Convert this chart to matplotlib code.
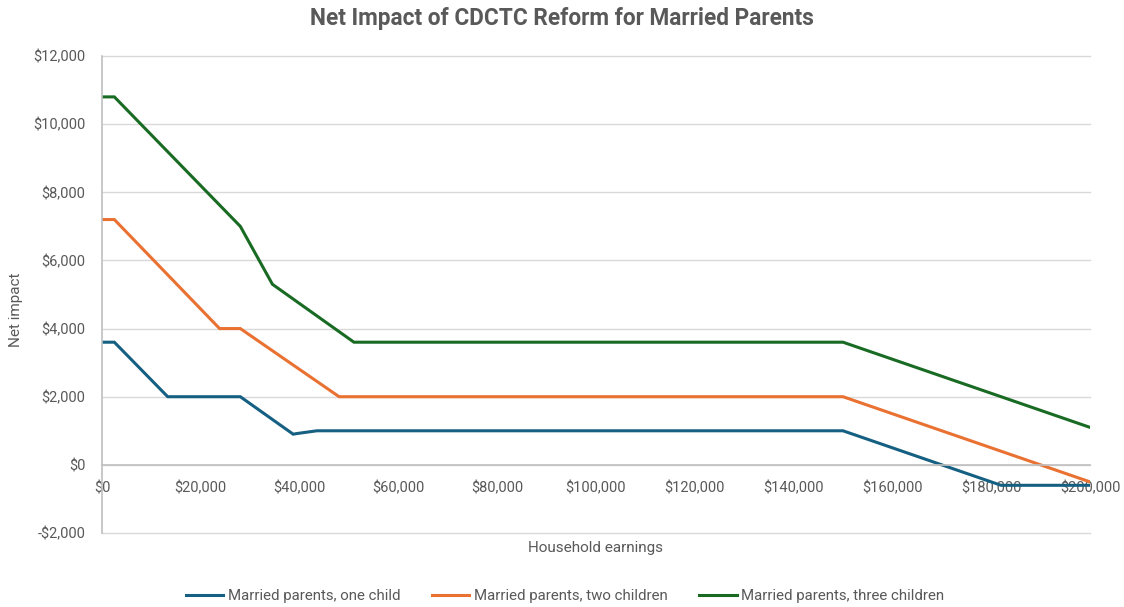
import matplotlib
matplotlib.use("Agg")
import matplotlib.pyplot as plt
from matplotlib.ticker import FuncFormatter

# Data (household earnings breakpoints, net impact)
one_x = [0, 2500, 13300, 28000, 38700, 39500, 41000, 43500, 150000, 182000, 200000]
one_y = [3600, 3600, 2000, 2000, 900, 920, 950, 1000, 1000, -600, -600]

two_x = [0, 2500, 23800, 28000, 48000, 150000, 200000]
two_y = [7200, 7200, 4000, 4000, 2000, 2000, -500]

three_x = [0, 2500, 28000, 34500, 51000, 150000, 200000]
three_y = [10800, 10800, 7000, 5300, 3600, 3600, 1100]

labels = ["Married parents, one child", "Married parents, two children",
          "Married parents, three children"]
colors = ["#156082", "#E97132", "#196B24"]

x_ticks = list(range(0, 200001, 20000))
y_ticks = list(range(-2000, 12001, 2000))

gray = "#595959"
plt.rcParams['font.family'] = ['Roboto', 'DejaVu Sans']

fig = plt.figure(figsize=(11.24, 6.07), dpi=100)
ax = fig.add_axes([102/1124, 74/607, 988/1124, 477/607])

for xs, ys, lab, c in zip([one_x, two_x, three_x], [one_y, two_y, three_y], labels, colors):
    ax.plot(xs, ys, color=c, lw=2.2, label=lab, solid_joinstyle='miter')

ax.set_xlim(0, 200000)
ax.set_ylim(-2000, 12000)
ax.set_xticks(x_ticks)
ax.set_yticks(y_ticks)
ax.xaxis.set_major_formatter(FuncFormatter(lambda v, p: f"${int(v):,}"))
ax.yaxis.set_major_formatter(FuncFormatter(lambda v, p: f"-${int(-v):,}" if v < 0 else f"${int(v):,}"))
ax.grid(axis='y', color='#d9d9d9', lw=1)
for gl in ax.get_ygridlines():
    gl.set_clip_on(False)
ax.set_axisbelow(True)
for s in ['top', 'right']:
    ax.spines[s].set_visible(False)
ax.spines['bottom'].set_position(('data', 0))
ax.spines['bottom'].set_color('#bfbfbf')
ax.spines['left'].set_color('#bfbfbf')
ax.spines['left'].set_linewidth(1.2)
ax.spines['bottom'].set_linewidth(1.2)
ax.tick_params(axis='both', length=0, colors=gray, labelsize=10.5)
ax.tick_params(axis='x', pad=12)
ax.tick_params(axis='y', pad=12)

fig.suptitle("Net Impact of CDCTC Reform for Married Parents", x=562/1124, y=1-18/607,
             va='center', fontsize=16.3, fontweight='bold', color=gray)
fig.text(16/1124, 1 - 310/607, "Net impact", rotation=90, ha='center', va='center',
         fontsize=11, color=gray)
fig.text(596/1124, 1 - 548/607, "Household earnings", ha='center', va='center',
         fontsize=11, color=gray)

leg = fig.legend(loc='center', bbox_to_anchor=(565/1124, 1 - 596/607), ncol=3,
                 frameon=False, fontsize=10.8, handlelength=2.5, columnspacing=2.1,
                 handletextpad=0.3)
for t in leg.get_texts():
    t.set_color(gray)

fig.savefig("out.png", dpi=100)
